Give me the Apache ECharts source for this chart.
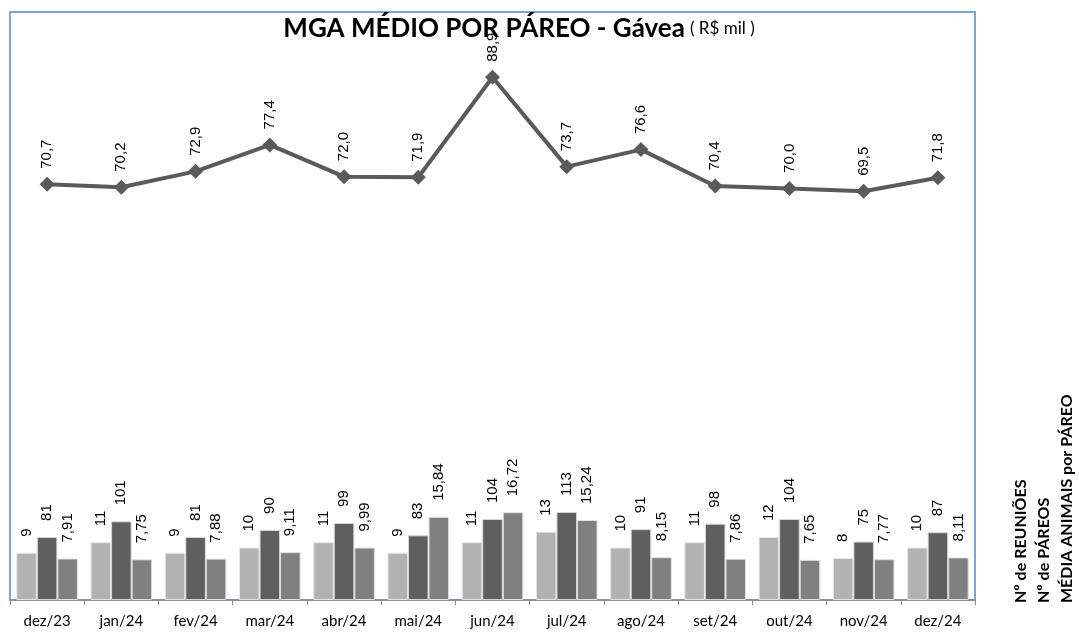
<!DOCTYPE html>
<html><head><meta charset="utf-8">
<script src="https://cdn.jsdelivr.net/npm/echarts@6/dist/echarts.min.js"></script>
<style>html,body{margin:0;padding:0;background:#fff}#c{width:1079px;height:633px}</style>
</head><body><div id="c"></div>
<script>
const categories = ['dez/23','jan/24','fev/24','mar/24','abr/24','mai/24','jun/24','jul/24','ago/24','set/24','out/24','nov/24','dez/24'];
const reunioes = [9, 11, 9, 10, 11, 9, 11, 13, 10, 11, 12, 8, 10];
const pareos = [81, 101, 81, 90, 99, 83, 104, 113, 91, 98, 104, 75, 87];
const mediaAnimais = [7.91, 7.75, 7.88, 9.11, 9.99, 15.84, 16.72, 15.24, 8.15, 7.86, 7.65, 7.77, 8.11];
const mgaMedio = [70.7, 70.2, 72.9, 77.4, 72.0, 71.9, 88.9, 73.7, 76.6, 70.4, 70.0, 69.5, 71.8];
const legendNames = ['Nº de REUNIÕES', 'Nº de PÁREOS', 'MÉDIA ANIMAIS por PÁREO'];

const comma = (v, d) => v.toFixed(d).replace('.', ',');
const labelFont = {fontFamily: 'Liberation Sans', fontSize: 15, color: '#000'};
const barLabel = (fmt) => Object.assign({
  show: true, position: 'top', rotate: 90, align: 'left', verticalAlign: 'middle',
  distance: 16, formatter: p => fmt(p.value)
}, labelFont);

const chart = echarts.init(document.getElementById('c'));
chart.setOption({
  animation: false,
  title: {
    text: '{b|MGA MÉDIO POR PÁREO - Gávea} {n|( R$ mil )}',
    left: 514, top: 11, textAlign: 'center',
    textStyle: {rich: {
      b: {fontFamily: 'Lato', fontWeight: 'bold', fontSize: 26, color: '#000'},
      n: {fontFamily: 'Lato', fontWeight: 'normal', fontSize: 17, color: '#000'}
    }}
  },
  grid: {left: 10, right: 104, top: 12, bottom: 33, show: true, borderColor: '#7ca4da', borderWidth: 2, backgroundColor: 'transparent'},
  xAxis: {
    type: 'category', data: categories,
    axisLine: {lineStyle: {color: '#8a8a8a', width: 1.5}},
    axisTick: {show: true, length: 5, lineStyle: {color: '#8a8a8a'}},
    axisLabel: {fontFamily: 'Lato', fontSize: 15, color: '#000', margin: 14}
  },
  yAxis: [
    {type: 'value', min: 0, max: 112, show: false},
    {type: 'value', min: 0, max: 755, show: false},
    {type: 'value', min: 0, max: 100, show: false}
  ],
  series: [
    {name: legendNames[0], type: 'bar', data: reunioes, yAxisIndex: 0, barGap: '0%', barCategoryGap: '17%',
      itemStyle: {color: '#b2b2b2', borderColor: '#e6e6e6', borderWidth: 1}, label: barLabel(v => String(v))},
    {name: legendNames[1], type: 'bar', data: pareos, yAxisIndex: 1,
      itemStyle: {color: '#5f5f5f', borderColor: '#d8d8d8', borderWidth: 1}, label: barLabel(v => String(v))},
    {name: legendNames[2], type: 'bar', data: mediaAnimais, yAxisIndex: 0,
      itemStyle: {color: '#808080', borderColor: '#e0e0e0', borderWidth: 1}, label: barLabel(v => comma(v, 2))},
    {name: 'MGA', type: 'line', data: mgaMedio, yAxisIndex: 2, symbol: 'diamond', symbolSize: 15,
      lineStyle: {color: '#5a5a5a', width: 4}, itemStyle: {color: '#5a5a5a'},
      label: Object.assign({show: true, position: 'top', rotate: 90, align: 'left', verticalAlign: 'middle', distance: 8,
        formatter: p => comma(p.value, 1)}, labelFont)}
  ],
  graphic: legendNames.map((t, i) => ({
    type: 'text', x: [1021, 1044, 1067][i], y: 603, rotation: Math.PI / 2,
    style: {text: t, fontFamily: 'Lato', fontWeight: 'bold', fontSize: 16, fill: '#000', textAlign: 'left', textVerticalAlign: 'middle'}
  }))
});
</script></body></html>
